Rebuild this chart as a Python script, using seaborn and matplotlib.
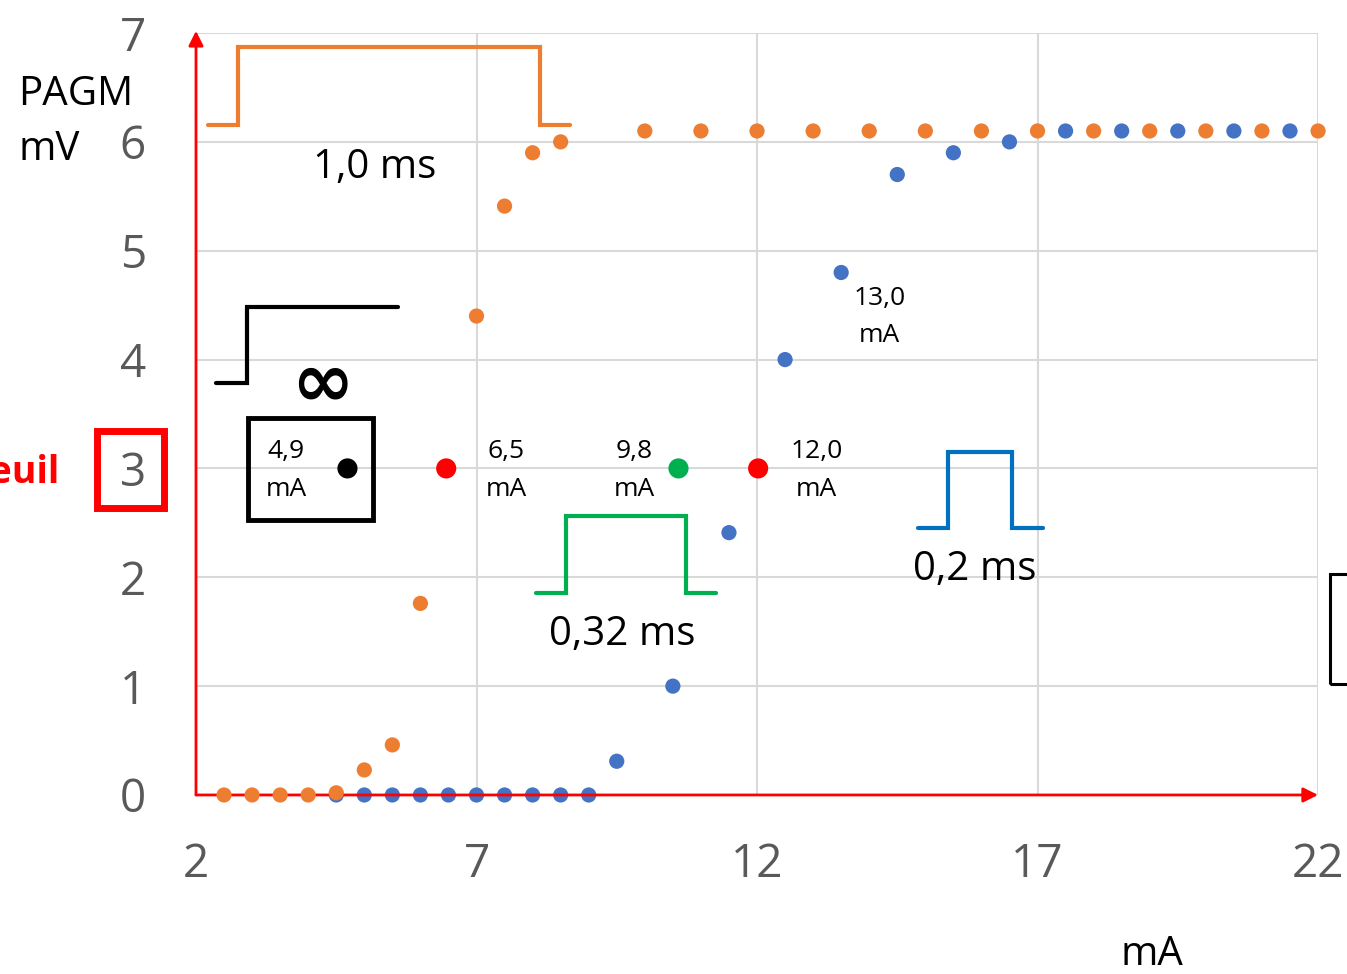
import numpy as np
import pandas as pd
import matplotlib
matplotlib.use("Agg")
import matplotlib.pyplot as plt
import matplotlib.patches as patches
import seaborn as sns

# stimulation current (mA) vs PAGM amplitude (mV), pulse width 1.0 ms (orange)
ma_orange = [2.5, 3, 3.5, 4, 4.5, 5, 5.5, 6, 7, 7.5, 8, 8.5,
             10, 11, 12, 13, 14, 15, 16, 17, 18, 19, 20, 21, 22]
mv_orange = [0, 0, 0, 0, 0.02, 0.23, 0.46, 1.76, 4.4, 5.41, 5.9, 6.0,
             6.1, 6.1, 6.1, 6.1, 6.1, 6.1, 6.1, 6.1, 6.1, 6.1, 6.1, 6.1, 6.1]

# pulse width 0.2 ms (blue)
ma_blue = [4.5, 5, 5.5, 6, 6.5, 7, 7.5, 8, 8.5, 9,
           9.5, 10.5, 11.5, 12.5, 13.5, 14.5, 15.5, 16.5,
           17.5, 18.5, 19.5, 20.5, 21.5]
mv_blue = [0, 0, 0, 0, 0, 0, 0, 0, 0, 0,
           0.31, 1.0, 2.41, 4.0, 4.8, 5.7, 5.9, 6.0,
           6.1, 6.1, 6.1, 6.1, 6.1]

# threshold points (seuil = 3 mV)
seuil_ma = [4.7, 6.46, 10.6, 12.02]
seuil_mv = [3, 3, 3, 3]
seuil_col = ["black", "#FF0000", "#00B050", "#FF0000"]

x_ticks = [2, 7, 12, 17, 22]
y_ticks = [0, 1, 2, 3, 4, 5, 6, 7]

ORANGE = "#ED7D31"
BLUE = "#4472C4"

sns.set_style("white")
plt.rcParams["font.family"] = ["Open Sans", "DejaVu Sans"]
plt.rcParams["text.color"] = "black"

fig = plt.figure(figsize=(13.47, 9.74), dpi=100)
ax = fig.add_axes([0.1455, 0.1838, 0.8330, 0.7823])

sns.scatterplot(x=ma_blue, y=mv_blue, color=BLUE, s=120, edgecolor="none", ax=ax, zorder=3, clip_on=False)
sns.scatterplot(x=ma_orange, y=mv_orange, color=ORANGE, s=120, edgecolor="none", ax=ax, zorder=4, clip_on=False)
sns.scatterplot(x=seuil_ma, y=seuil_mv, hue=list(range(len(seuil_ma))), palette=seuil_col,
                s=210, edgecolor="none", ax=ax, zorder=5, legend=False)

ax.set_xlim(2, 22)
ax.set_ylim(0, 7)
ax.set_xticks(x_ticks)
ax.set_yticks(y_ticks)
ax.grid(True, color="#D9D9D9", lw=1.5)
ax.set_axisbelow(True)
for s in ax.spines.values():
    s.set_visible(False)
ax.tick_params(axis="both", length=0, labelsize=33, labelcolor="#595959")
ax.tick_params(axis="y", pad=36)
ax.tick_params(axis="x", pad=34)

# red axes with arrows
arr = dict(arrowstyle="-|>", color="red", lw=2, mutation_scale=22, shrinkA=0, shrinkB=0)
ax.annotate("", xy=(2, 7.02), xytext=(2, 0), arrowprops=arr, annotation_clip=False)
ax.annotate("", xy=(22, 0), xytext=(2, 0), arrowprops=arr, annotation_clip=False)

# pulse shapes
def pulse(xs, ys, color):
    ax.plot(xs, ys, color=color, lw=3, solid_joinstyle="miter", clip_on=False, zorder=2)

pulse([2.214, 2.749, 2.749, 8.132, 8.132, 8.667], [6.155, 6.155, 6.871, 6.871, 6.155, 6.155], ORANGE)
pulse([2.357, 2.909, 2.909, 5.601], [3.785, 3.785, 4.483, 4.483], "black")
pulse([8.061, 8.595, 8.595, 10.734, 10.734, 11.269], [1.856, 1.856, 2.563, 2.563, 1.856, 1.856], "#00B050")
pulse([14.87, 15.405, 15.405, 16.546, 16.546, 17.098], [2.453, 2.453, 3.151, 3.151, 2.453, 2.453], "#0070C0")

ax.text(5.19, 5.76, "1,0 ms", fontsize=29, ha="center", va="center")
ax.text(9.594, 1.47, "0,32 ms", fontsize=29, ha="center", va="center")
ax.text(15.886, 2.07, "0,2 ms", fontsize=29, ha="center", va="center")
ax.text(4.246, 3.766, "∞", fontsize=54, fontweight="bold", ha="center", va="center",
        family="DejaVu Sans")

ax.add_patch(patches.Rectangle((2.927, 2.526), 2.228, 0.937, fill=False, lw=3.5,
                               edgecolor="black", zorder=2))

small = dict(fontsize=19, ha="center", va="center", linespacing=1.65)
ax.text(3.604, 2.98, "4,9\nmA", **small)
ax.text(7.535, 2.98, "6,5\nmA", **small)
ax.text(9.816, 2.98, "9,8\nmA", **small)
ax.text(13.06, 2.98, "12,0\nmA", **small)
ax.text(14.18, 4.39, "13,0\nmA", **small)

# outer labels
fig.text(18 / 1347, 1 - 95 / 974, "PAGM", fontsize=29, ha="left", va="center")
fig.text(18 / 1347, 1 - 150 / 974, "mV", fontsize=29, ha="left", va="center")
fig.text(1152 / 1347, 1 - 955 / 974, "mA", fontsize=29, ha="center", va="center")
fig.text(60 / 1347, 1 - 473 / 974, "Seuil", fontsize=27, fontweight="bold",
         color="#FF0000", ha="right", va="center")
fig.add_artist(patches.Rectangle((96.5 / 1347, 1 - 507.5 / 974), 67 / 1347, 77 / 974,
                                 transform=fig.transFigure, fill=False, lw=5,
                                 edgecolor="#FF0000"))
fig.add_artist(patches.Rectangle((1330 / 1347, 1 - 684 / 974), 60 / 1347, 110 / 974,
                                 transform=fig.transFigure, fill=False, lw=2.2,
                                 edgecolor="black"))

fig.savefig("out.png", dpi=100)
